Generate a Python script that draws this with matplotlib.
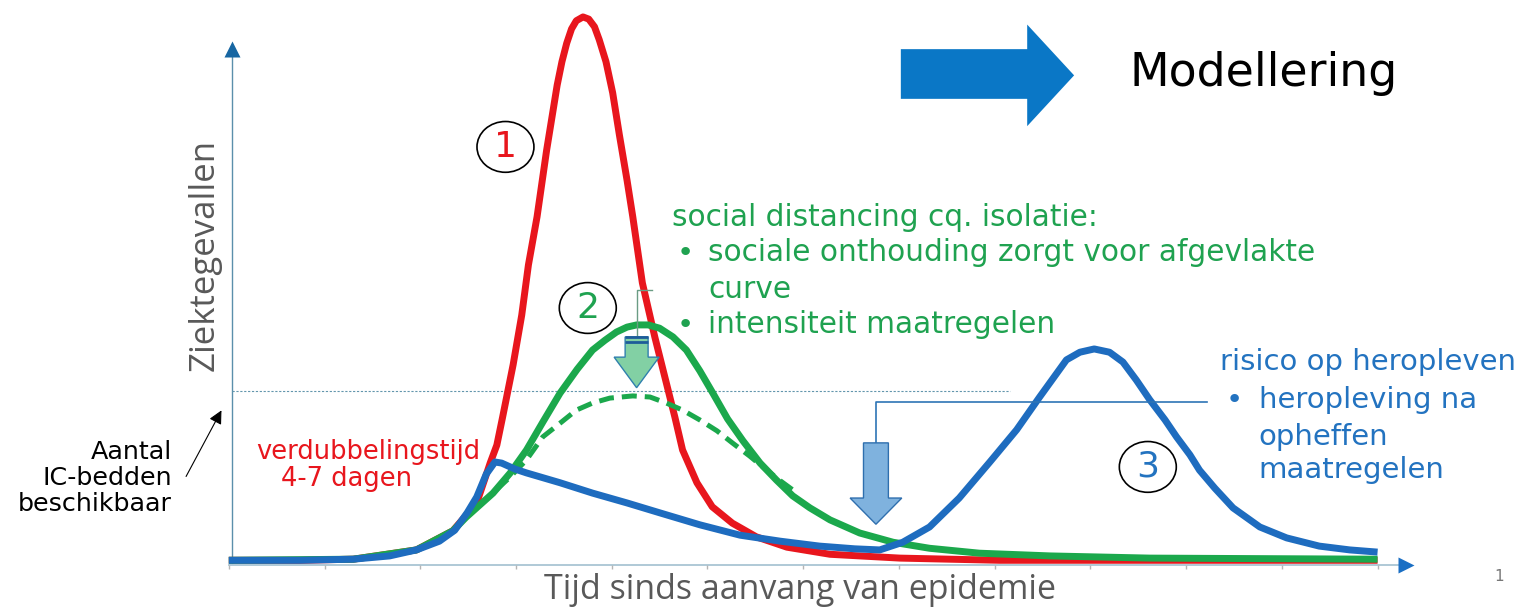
import matplotlib.pyplot as plt
from matplotlib.patches import Ellipse, Polygon

# time in tick units (0..12), cases in arbitrary units (peak of curve 1 = 100)
red_t = [0, 0.74, 1.30, 1.96, 2.34, 2.59, 2.73, 2.80, 2.86, 2.97, 3.06, 3.13,
         3.22, 3.32, 3.43, 3.48, 3.53, 3.58, 3.63, 3.70, 3.76, 3.82, 3.87, 3.94,
         4.01, 4.08, 4.16, 4.22, 4.32, 4.45, 4.57, 4.66, 4.74, 4.89, 5.05, 5.26,
         5.51, 5.83, 6.28, 7.01, 8.05, 12.0]
red_y = [0.5, 0.5, 0.7, 2.4, 5.9, 11.0, 18.3, 21.6, 26.7, 36.3, 45.4, 54.6,
         63.4, 75.6, 87.5, 91.8, 95.2, 97.8, 99.3, 100, 99.6, 98.2, 95.8, 91.8,
         86.1, 78.4, 70.1, 63.4, 51.3, 41.4, 33.0, 26.7, 20.7, 14.7, 10.3, 7.3,
         4.8, 2.9, 1.6, 0.9, 0.5, 0.5]

green_t = [0, 1.30, 1.96, 2.34, 2.48, 2.62, 2.76, 2.94, 3.11, 3.28, 3.46, 3.64,
           3.80, 3.93, 4.05, 4.16, 4.26, 4.38, 4.50, 4.64, 4.78, 4.92, 5.06,
           5.21, 5.37, 5.55, 5.72, 5.89, 6.07, 6.28, 6.59, 6.94, 7.32, 7.84,
           8.58, 9.62, 12.0]
green_y = [0.5, 0.7, 2.4, 5.9, 8.4, 10.6, 12.8, 16.5, 20.7, 25.8, 31.1, 35.5,
           39.0, 40.8, 42.3, 43.2, 43.6, 43.6, 43.0, 41.4, 39.0, 35.2, 31.0,
           26.4, 22.4, 18.3, 15.2, 12.3, 10.1, 7.9, 5.5, 3.8, 2.7, 1.8,
           1.3, 0.9, 0.7]

# flattened curve (dashed)
flat_t = [2.62, 2.93, 3.11, 3.28, 3.46, 3.63, 3.80, 3.98, 4.22, 4.40, 4.57,
          4.74, 4.92, 5.10, 5.26, 5.44, 5.62, 5.75, 5.89]
flat_y = [10.6, 15.6, 18.9, 23.1, 25.6, 28.0, 29.3, 30.2, 30.6, 30.4, 29.3,
          28.0, 26.2, 24.2, 22.0, 19.6, 17.0, 15.2, 13.4]

blue_t = [0, 0.74, 1.30, 1.68, 1.96, 2.20, 2.36, 2.49, 2.59, 2.69, 2.78, 2.85,
          2.99, 3.11, 3.46, 3.80, 4.16, 4.50, 4.92, 5.34, 5.76, 6.17, 6.54,
          6.80, 7.04, 7.32, 7.63, 7.95, 8.23, 8.47, 8.75, 8.89, 9.04, 9.20,
          9.34, 9.48, 9.62, 9.78, 9.90, 10.04, 10.14, 10.30, 10.49, 10.77,
          11.05, 11.39, 11.71, 12.0]
blue_y = [0.5, 0.5, 0.7, 1.3, 2.4, 4.0, 6.0, 9.2, 12.1, 16.3, 18.5, 18.3,
          17.2, 16.5, 14.7, 12.8, 11.0, 9.2, 7.0, 5.1, 4.0, 3.1, 2.6,
          2.4, 3.8, 6.6, 11.9, 18.5, 24.4, 30.4, 37.2, 38.6, 39.2, 38.6,
          36.8, 33.5, 29.9, 26.2, 23.1, 19.8, 17.0, 13.7, 10.1, 6.6,
          4.6, 3.1, 2.4, 2.0]

ic_capacity = 31.5
ic_line_end = 8.16
ticks = list(range(13))

RED = "#e8161d"
GREEN = "#1ba84c"
GREEN_TXT = "#1fa250"
BLUE = "#1e6cbf"
BLUE_TXT = "#2373c0"
GREY = "#595959"


def down_arrow(ax, x, top, neck, tip, half_shaft, half_head, face, edge):
    verts = [(x - half_shaft, top), (x + half_shaft, top), (x + half_shaft, neck),
             (x + half_head, neck), (x, tip), (x - half_head, neck),
             (x - half_shaft, neck)]
    ax.add_patch(Polygon(verts, closed=True, facecolor=face, edgecolor=edge,
                         lw=1.0, zorder=6))


def numbered_circle(ax, x, y, label, color):
    ax.add_patch(Ellipse((x, y), 0.595, 9.3, facecolor="none", edgecolor="black",
                         lw=1.2, zorder=6))
    ax.text(x, y, label, color=color, fontsize=26, ha="center", va="center",
            zorder=7)


fig = plt.figure(figsize=(15.25, 6.09), dpi=100)
ax = fig.add_axes([0, 0, 1, 1])
ax.set_xlim(-2.39, 13.54)
ax.set_ylim(-8.42, 103.1)
ax.axis("off")

# axes with arrow heads
ax.plot([0.03, 0.03], [0, 93.5], color="#5b8fab", lw=1.0, zorder=1)
ax.plot(0.03, 94.2, marker="^", ms=11, color="#1766a2", mec="none", zorder=1)
ax.plot([0, 12.25], [-0.4, -0.4], color="#a9c5d3", lw=1.3, zorder=1)
ax.plot(12.3, -0.4, marker=">", ms=12, color="#1a6fc4", mec="none", zorder=1)
ax.vlines(ticks, -1.1, -0.4, color="#b5b5b5", lw=1.0, zorder=1)

ax.plot([0.03, ic_line_end], [ic_capacity, ic_capacity], ls=(0, (2, 1.5)),
        lw=0.8, color="#6396ad", zorder=1)

line_kw = dict(solid_joinstyle="round", solid_capstyle="butt")
ax.plot(red_t, red_y, color=RED, lw=5, zorder=3, **line_kw)
ax.plot(green_t, green_y, color=GREEN, lw=5, zorder=4, **line_kw)
ax.plot(flat_t, flat_y, color=GREEN, lw=3.6, ls=(0, (3, 1.6)), zorder=4)
ax.plot(blue_t, blue_y, color=BLUE, lw=5, zorder=5, **line_kw)

# axis titles
ax.text(5.97, -4.95, "Tijd sinds aanvang van epidemie", color=GREY, fontsize=24.5,
        family="Open Sans", ha="center", va="center")
ax.text(-0.25, 56.4, "Ziektegevallen", color=GREY, fontsize=25, rotation=90,
        family="Open Sans", ha="center", va="center")

# IC capacity annotation
ax.text(-0.595, 15.6, "Aantal\nIC-bedden\nbeschikbaar", fontsize=18.3,
        ha="right", va="center", multialignment="right", linespacing=1.1)
ax.annotate("", xy=(-0.063, 28.4), xytext=(-0.46, 15.4),
            arrowprops=dict(arrowstyle="-|>", color="black", lw=0.8,
                            mutation_scale=20))

ax.text(0.29, 20.3, "verdubbelingstijd", color=RED, fontsize=18.5,
        ha="left", va="center")
ax.text(0.55, 15.4, "4-7 dagen", color=RED, fontsize=18.5, ha="left", va="center")

numbered_circle(ax, 2.89, 76.2, "1", RED)
numbered_circle(ax, 3.75, 46.7, "2", GREEN_TXT)
numbered_circle(ax, 9.60, 17.6, "3", BLUE_TXT)

# social distancing block
ax.text(4.63, 63.2, "social distancing cq. isolatie:", color=GREEN_TXT,
        fontsize=21.3, ha="left", va="center")
for y, line, bullet in [(56.8, "sociale onthouding zorgt voor afgevlakte", True),
                        (50.0, "curve", False),
                        (43.6, "intensiteit maatregelen", True)]:
    if bullet:
        ax.text(4.68, y, "•", color=GREEN_TXT, fontsize=21, ha="left", va="center")
    ax.text(5.01, y, line, color=GREEN_TXT, fontsize=21.3, ha="left", va="center")

down_arrow(ax, 4.26, 41.4, 37.7, 32.1, 0.12, 0.235, "#82d0a4", "#2f80ad")
ax.hlines([41.3, 40.5], 4.14, 4.38, color="#1d5c99", lw=2, zorder=7)
ax.plot([4.26, 4.26, 4.42], [41.4, 50.0, 50.0], color="#6a9c84", lw=1, zorder=5)

# resurgence block
ax.text(10.35, 36.8, "risico op heropleven", color=BLUE_TXT, fontsize=21,
        ha="left", va="center")
ax.text(10.41, 29.9, "•", color=BLUE_TXT, fontsize=21, ha="left", va="center")
for y, line in [(29.9, "heropleving na"), (23.1, "opheffen"), (17.0, "maatregelen")]:
    ax.text(10.76, y, line, color=BLUE_TXT, fontsize=21, ha="left", va="center")

down_arrow(ax, 6.76, 22.0, 11.9, 7.1, 0.13, 0.27, "#7fb2de", "#2f6fae")
ax.plot([6.76, 6.76, 10.22], [22.0, 29.5, 29.5], color="#2e74b5", lw=1.2, zorder=5)

# header
ax.add_patch(Polygon([(7.02, 94.1), (8.34, 94.1), (8.34, 98.6), (8.83, 89.3),
                      (8.34, 80.0), (8.34, 85.0), (7.02, 85.0)],
                     closed=True, facecolor="#0a77c6", edgecolor="none"))
ax.text(9.41, 89.7, "Modellering", fontsize=33, ha="left", va="center")

ax.text(13.27, -2.56, "1", color="#777777", fontsize=11, ha="center", va="center")

fig.savefig("out.png", dpi=100)
